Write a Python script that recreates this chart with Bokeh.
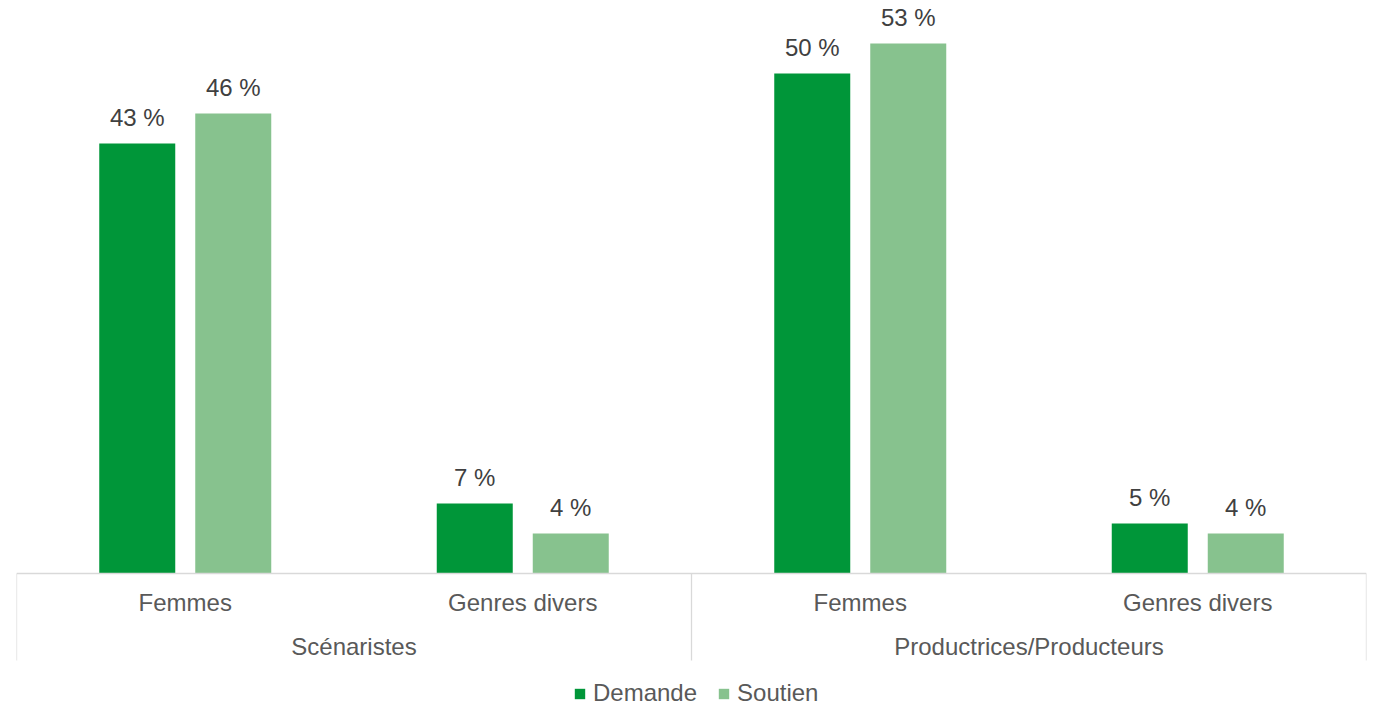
from bokeh.plotting import figure
from bokeh.models import ColumnDataSource, Legend, LegendItem, Range1d
from bokeh.core.properties import value
from bokeh.embed import file_html
from bokeh.resources import INLINE

# ---- data ----
groups = ["Scénaristes", "Productrices/Producteurs"]
subcats = ["Femmes", "Genres divers"]
series = ["Demande", "Soutien"]
demande = [43, 7, 50, 5]
soutien = [46, 4, 53, 4]
colors = ["#009639", "#87C28E"]

FONT = "Liberation Sans"
FS = "24px"
AXIS_COL = "#595959"
LABEL_COL = "#404040"
LINE_COL = "#D9D9D9"

n = len(groups) * len(subcats)
centers = [i + 0.5 for i in range(n)]
cat_labels = [s for g in groups for s in subcats]
off = 48 / 337.5
bw = 76 / 337.5

p = figure(width=1368, height=705, output_backend="svg", toolbar_location=None,
           x_range=Range1d(0, n), y_range=Range1d(-13.2, 56.5),
           x_axis_type=None, y_axis_type=None,
           min_border_left=16, min_border_right=2, min_border_top=8, min_border_bottom=0)
p.grid.visible = False
p.outline_line_color = None

renderers = []
for k, (vals, col, name) in enumerate(zip([demande, soutien], colors, series)):
    xs = [c + (-off if k == 0 else off) for c in centers]
    src = ColumnDataSource(dict(x=xs, top=vals, lab=[f"{v} %" for v in vals],
                                ly=[v + 2.6 for v in vals]))
    r = p.vbar(x="x", top="top", bottom=0, width=bw, source=src,
               fill_color=col, line_color=None)
    renderers.append(r)
    p.text(x="x", y="ly", text="lab", source=src, text_align="center",
           text_baseline="middle", text_font=value(FONT), text_font_size=FS,
           text_color=LABEL_COL)

# axis line
p.segment(x0=[0], y0=[0], x1=[n], y1=[0], line_color=LINE_COL, line_width=1.3)
# group separators
seps = [0] + [len(subcats) * (i + 1) for i in range(len(groups))]
p.segment(x0=seps, y0=[0] * len(seps), x1=seps, y1=[-8.7] * len(seps),
          line_color=LINE_COL, line_width=1.3)

# category labels
csrc = ColumnDataSource(dict(x=centers, y=[-2.9] * n, t=cat_labels))
p.text(x="x", y="y", text="t", source=csrc, text_align="center", text_baseline="middle",
       text_font=value(FONT), text_font_size=FS, text_color=AXIS_COL)
gx = [len(subcats) * i + len(subcats) / 2 for i in range(len(groups))]
gsrc = ColumnDataSource(dict(x=gx, y=[-7.3] * len(groups), t=groups))
p.text(x="x", y="y", text="t", source=gsrc, text_align="center", text_baseline="middle",
       text_font=value(FONT), text_font_size=FS, text_color=AXIS_COL)

legend = Legend(items=[LegendItem(label=s, renderers=[r]) for s, r in zip(series, renderers)],
                orientation="horizontal", location=(557, -2),
                glyph_width=13, glyph_height=13, label_standoff=7, spacing=20,
                padding=0, margin=0, border_line_color=None, background_fill_alpha=0,
                label_text_font=FONT, label_text_font_size=FS, label_text_color=AXIS_COL)
p.add_layout(legend, "center")

open("out.html", "w").write(file_html(p, INLINE))
